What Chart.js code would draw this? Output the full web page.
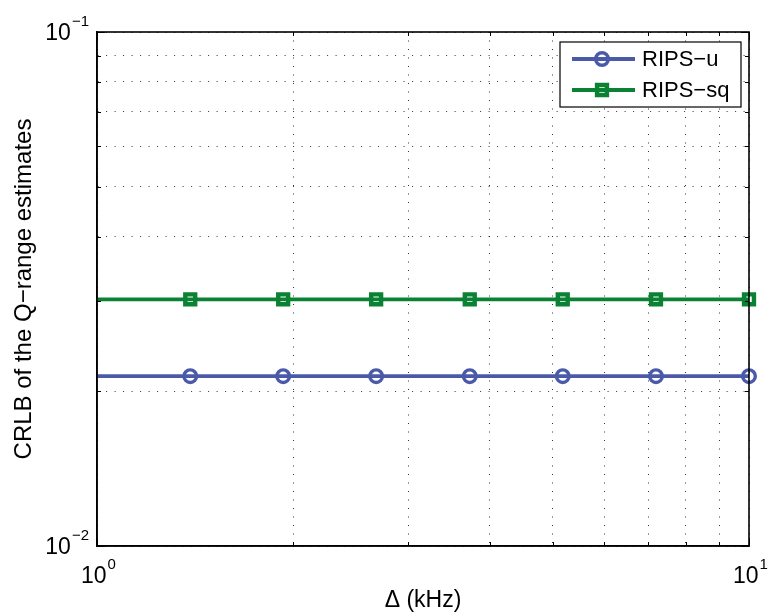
<!DOCTYPE html>
<html>
<head>
<meta charset="utf-8">
<script src="https://cdn.jsdelivr.net/npm/chart.js"></script>
<style>
  html, body { margin: 0; padding: 0; background: #fff; }
  #wrap { width: 768px; height: 614px; }
</style>
</head>
<body>
<div id="wrap"><canvas id="crlbChart" width="768" height="614"></canvas></div>
<script>
// Delta (kHz), log-spaced sample points
const deltaKHz = [1, 1.39, 1.93, 2.68, 3.73, 5.18, 7.20, 10];
const ripsU  = [0.0214, 0.0214, 0.0214, 0.0214, 0.0214, 0.0214, 0.0214, 0.0214];
const ripsSq = [0.0302, 0.0302, 0.0302, 0.0302, 0.0302, 0.0302, 0.0302, 0.0302];
const markerShown = [0, 1, 1, 1, 1, 1, 1, 1];

const seriesNames = ["RIPS\u2212u", "RIPS\u2212sq"];
const xTicks = [1, 2, 3, 4, 5, 6, 7, 8, 9, 10];
const yTicks = [0.01, 0.02, 0.03, 0.04, 0.05, 0.06, 0.07, 0.08, 0.09, 0.1];
const xDecades = [[1, "0"], [10, "1"]];
const yDecades = [[0.01, "\u22122"], [0.1, "\u22121"]];

const FONT = "'Liberation Sans', Arial, Helvetica, sans-serif";

function toPoints(ys){
    return deltaKHz.map((x, i) => ({x: x, y: ys[i]}));
}

function isDecade(v){
    const e = Math.log10(v);
    return Math.abs(e - Math.round(e)) < 1e-9;
}

// inward ticks, box, power-of-ten labels and legend, matlab style
const boxPlugin = {
    id: "box",
    afterDraw(chart){
        const ctx = chart.ctx;
        const a = chart.chartArea;
        const xs = chart.scales.x, ys = chart.scales.y;
        ctx.save();
        ctx.strokeStyle = "#000";
        ctx.lineWidth = 1;
        ctx.beginPath();
        xs.ticks.forEach(t => {
            const px = Math.round(xs.getPixelForValue(t.value)) + 0.5;
            const len = isDecade(t.value) ? 8 : 4;
            ctx.moveTo(px, a.bottom); ctx.lineTo(px, a.bottom - len);
            ctx.moveTo(px, a.top); ctx.lineTo(px, a.top + len);
        });
        ys.ticks.forEach(t => {
            const py = Math.round(ys.getPixelForValue(t.value)) + 0.5;
            const len = isDecade(t.value) ? 8 : 4;
            ctx.moveTo(a.left, py); ctx.lineTo(a.left + len, py);
            ctx.moveTo(a.right, py); ctx.lineTo(a.right - len, py);
        });
        ctx.stroke();
        ctx.lineWidth = 1.6;
        ctx.strokeRect(a.left, a.top, a.right - a.left, a.bottom - a.top);

        // tick labels 10^n
        ctx.fillStyle = "#000";
        ctx.textBaseline = "alphabetic";
        const base = "23px " + FONT, sup = "15px " + FONT;
        xDecades.forEach(([v, e]) => {
            const px = xs.getPixelForValue(v);
            ctx.font = base; const w1 = ctx.measureText("10").width;
            ctx.font = sup;  const w2 = ctx.measureText(e).width;
            const x0 = px - (w1 + w2) / 2 + 1;
            ctx.font = base; ctx.textAlign = "left";
            ctx.fillText("10", x0, a.bottom + 37);
            ctx.font = sup;
            ctx.fillText(e, x0 + w1 + 1, a.bottom + 23);
        });
        yDecades.forEach(([v, e]) => {
            const py = ys.getPixelForValue(v);
            ctx.font = sup; const w2 = ctx.measureText(e).width;
            const xr = a.left - 8;
            ctx.textAlign = "left";
            ctx.fillText(e, xr - w2, py - 6);
            ctx.font = base; ctx.textAlign = "right";
            ctx.fillText("10", xr - w2 - 1, py + 8);
        });

        // legend
        const lx = 560, ly = 42, lw = 181, lh = 65;
        ctx.fillStyle = "#fff";
        ctx.fillRect(lx, ly, lw, lh);
        ctx.lineWidth = 1.2;
        ctx.strokeStyle = "#000";
        ctx.strokeRect(lx, ly, lw, lh);
        const rows = [ly + 17, ly + 48];
        chart.data.datasets.forEach((ds, i) => {
            const y = rows[i];
            ctx.strokeStyle = ds.borderColor;
            ctx.lineWidth = ds.borderWidth;
            ctx.beginPath();
            ctx.moveTo(lx + 12, y); ctx.lineTo(lx + 75, y);
            ctx.stroke();
            ctx.fillStyle = ds.pointBackgroundColor;
            ctx.strokeStyle = ds.borderColor;
            ctx.lineWidth = ds.pointBorderWidth;
            Chart.helpers.drawPoint(ctx, {pointStyle: ds.pointStyle, radius: ds.legendRadius, rotation: 0, borderWidth: ds.pointBorderWidth}, lx + 42, y);
            ctx.fillStyle = "#000";
            ctx.font = "22px " + FONT;
            ctx.textAlign = "left";
            ctx.textBaseline = "middle";
            ctx.fillText(ds.label, lx + 82, y + 1);
        });
        ctx.restore();
    }
};

new Chart(document.getElementById("crlbChart"), {
    type: "line",
    data: {
        datasets: [
            {
                label: seriesNames[0],
                data: toPoints(ripsU),
                borderColor: "#4a5aa8",
                borderWidth: 3.8,
                pointStyle: "circle",
                pointRadius: markerShown.map(m => m * 6.3),
                legendRadius: 6.3,
                pointBorderWidth: 3.4,
                pointBackgroundColor: "rgba(0,0,0,0)",
                pointHoverRadius: 0,
                clip: false
            },
            {
                label: seriesNames[1],
                data: toPoints(ripsSq),
                borderColor: "#0b8233",
                borderWidth: 3.8,
                pointStyle: "rect",
                pointRadius: markerShown.map(m => m * 7),
                legendRadius: 7,
                pointBorderWidth: 4.4,
                pointBackgroundColor: "rgba(0,0,0,0)",
                pointHoverRadius: 0,
                clip: false
            }
        ]
    },
    options: {
        responsive: false,
        animation: false,
        devicePixelRatio: 1,
        layout: { padding: { top: 32, right: 19, left: 0, bottom: 0 } },
        plugins: { legend: { display: false }, tooltip: { enabled: false } },
        scales: {
            x: {
                type: "logarithmic",
                min: xTicks[0],
                max: xTicks[xTicks.length - 1],
                afterBuildTicks(s){ s.ticks = xTicks.map(v => ({value: v})); },
                afterFit(s){ s.height = 68; },
                grid: { color: "rgba(0,0,0,0.8)", lineWidth: 1, drawTicks: false },
                border: { display: true, color: "#000", width: 1.6, dash: [1, 7.5] },
                ticks: { display: false },
                title: {
                    display: true, text: "\u0394 (kHz)", color: "#000",
                    font: { family: FONT, size: 23 }, padding: { top: 0, bottom: 0 }
                }
            },
            y: {
                type: "logarithmic",
                min: yTicks[0],
                max: yTicks[yTicks.length - 1],
                afterBuildTicks(s){ s.ticks = yTicks.map(v => ({value: v})); },
                afterFit(s){ s.width = 97; },
                grid: { color: "rgba(0,0,0,0.8)", lineWidth: 1, drawTicks: false },
                border: { display: true, color: "#000", width: 1.6, dash: [1, 7.5] },
                ticks: { display: false },
                title: {
                    display: true, text: "CRLB of the Q\u2212range estimates", color: "#000",
                    font: { family: FONT, size: 24 }, padding: { top: 10, bottom: 0 }
                }
            }
        }
    },
    plugins: [boxPlugin]
});
</script>
</body>
</html>
